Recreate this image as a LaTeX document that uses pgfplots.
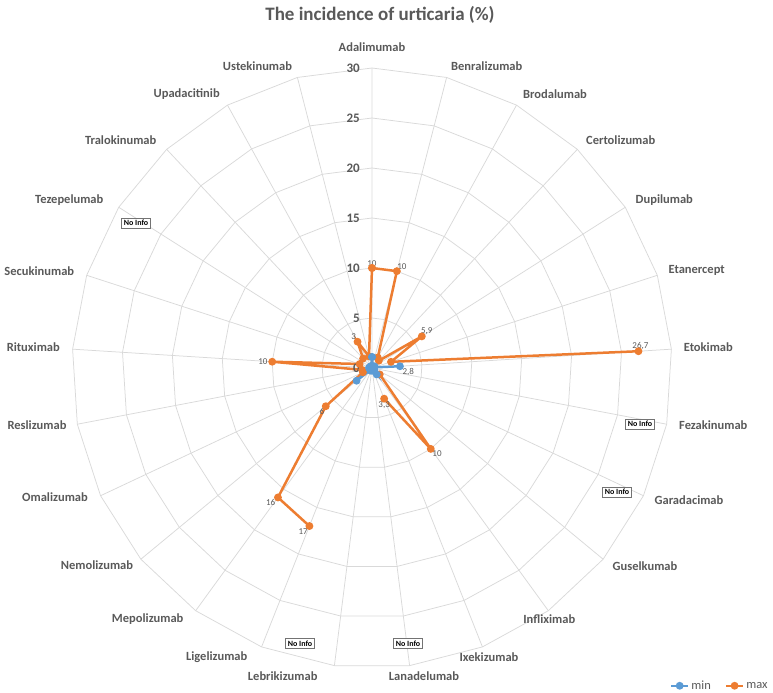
\documentclass[border=0pt]{standalone}
\usepackage{fontspec}
\setmainfont{Carlito}
\usepackage{pgfplots}
\pgfplotsset{compat=1.18}
\usepgfplotslibrary{polar}
\usepackage{pgfplotstable}
\definecolor{cmin}{HTML}{5B9BD5}
\definecolor{cmax}{HTML}{ED7D31}
\definecolor{gridc}{HTML}{D9D9D9}
\definecolor{txt}{HTML}{595959}
\definecolor{dlc}{HTML}{595959}

% angle = polar angle of the category (Adalimumab at top, clockwise, 25 categories)
\pgfplotstableread{
angle  min   max
90     1.1   10
75.6   0.2   10
61.2   0.1   1.2
46.8   0.1   1.0
32.4   0.3   5.9
18     0.2   2.0
3.6    2.8   26.7
349.2  nan   nan
334.8  nan   nan
320.4  0.3   1.0
306    0.8   10
291.6  0.3   3.3
277.2  nan   nan
262.8  nan   nan
248.4  0.3   17
234    0.2   16
219.6  2.0   6
205.2  0.2   1.0
190.8  0.2   1.0
176.4  0.3   10
162    0.2   1.3
147.6  nan   nan
133.2  0.2   1.3
118.8  0.2   3
104.4  0.2   1.2
90     1.1   10
}\datatable

\begin{document}
\begin{tikzpicture}
\tikzset{dl/.style={font=\fontsize{9bp}{10bp}\selectfont, text=dlc, inner sep=1.5bp},
  rl/.style={anchor=east, font=\fontsize{13bp}{14bp}\selectfont\bfseries, text=txt, inner sep=0pt, xshift=-12bp},
  cl/.style={font=\fontsize{12.5bp}{14bp}\selectfont\bfseries, text=txt, inner sep=0pt},
  ni/.style={draw=black!55, line width=0.6bp, font=\fontsize{8bp}{9bp}\selectfont\bfseries, text=black, inner sep=2bp, fill=white}}
\begin{polaraxis}[
  scale only axis, width=600bp, height=600bp,
  ymin=0, ymax=30,
  xtick={3.6,18,32.4,46.8,61.2,75.6,90,104.4,118.8,133.2,147.6,162,176.4,190.8,205.2,219.6,234,248.4,262.8,277.2,291.6,306,320.4,334.8,349.2},
  xticklabels={},
  xmajorgrids,
  major grid style={draw=gridc, line width=0.75bp},
  ytick=\empty,
  axis line style={draw=none},
  major tick length=0pt,
  unbounded coords=jump,
  clip=false,
  legend columns=2,
  legend style={at={(axis description cs:1.168,-0.045)}, anchor=south east, draw=none, fill=none,
    font=\fontsize{12.5bp}{14bp}\selectfont, text=txt,
    /tikz/every even column/.append style={column sep=12bp}},
  legend cell align=left,
]
\pgfplotsinvokeforeach{5,10,15,20,25,30}{
  \addplot[draw=gridc, line width=0.75bp, mark=none, forget plot] coordinates {
  (3.6,#1) (18,#1) (32.4,#1) (46.8,#1) (61.2,#1) (75.6,#1) (90,#1) (104.4,#1) (118.8,#1) (133.2,#1) (147.6,#1) (162,#1) (176.4,#1) (190.8,#1) (205.2,#1) (219.6,#1) (234,#1) (248.4,#1) (262.8,#1) (277.2,#1) (291.6,#1) (306,#1) (320.4,#1) (334.8,#1) (349.2,#1) (3.6,#1)};
}
\addlegendimage{draw=cmin, line width=2.5bp, mark=*, mark size=2.6bp, mark options={fill=cmin, draw=cmin}}
\addlegendentry{min}
\addlegendimage{draw=cmax, line width=2.5bp, mark=*, mark size=2.6bp, mark options={fill=cmax, draw=cmax}}
\addlegendentry{max}

\addplot[draw=cmax, line width=2.5bp, mark=*, mark size=2.6bp, mark options={fill=cmax, draw=cmax}, forget plot]
  table[x=angle, y=max] {\datatable};
\addplot[draw=cmin, line width=2.5bp, mark=*, mark size=2.6bp, mark options={fill=cmin, draw=cmin}, forget plot]
  table[x=angle, y=min] {\datatable};

\coordinate (C) at (axis cs:0,0);
% radial axis labels
\node[rl] at (axis cs:90,0) {0};
\node[rl] at (axis cs:90,5) {5};
\node[rl] at (axis cs:90,10) {10};
\node[rl] at (axis cs:90,15) {15};
\node[rl] at (axis cs:90,20) {20};
\node[rl] at (axis cs:90,25) {25};
\node[rl] at (axis cs:90,30) {30};
% data labels
\node[dl, anchor=south] at (axis cs:90,10) {10};
\node[dl, anchor=south, xshift=5bp] at (axis cs:75.6,10) {10};
\node[dl, anchor=south, xshift=5bp] at (axis cs:32.4,5.9) {5,9};
\node[dl, anchor=south, xshift=2bp] at (axis cs:3.6,26.7) {26,7};
\node[dl, anchor=north west, xshift=1bp] at (axis cs:3.6,2.8) {2,8};
\node[dl, anchor=north, yshift=-1bp] at (axis cs:291.6,3.3) {3,3};
\node[dl, anchor=north west] at (axis cs:306,10) {10};
\node[dl, anchor=east, xshift=-3bp] at (axis cs:176.4,10) {10};
\node[dl, anchor=north east] at (axis cs:219.6,6) {6};
\node[dl, anchor=north east, xshift=-1bp] at (axis cs:234,16) {16};
\node[dl, anchor=north east, yshift=-1bp] at (axis cs:248.4,17) {17};
\node[dl, anchor=south east] at (axis cs:118.8,3) {3};
\end{polaraxis}
% category labels
\node[cl] at ([shift={(0bp,321bp)}]C) {Adalimumab};
\node[cl] at ([shift={(114.7bp,302.3bp)}]C) {Benralizumab};
\node[cl] at ([shift={(183bp,273.7bp)}]C) {Brodalumab};
\node[cl] at ([shift={(248.7bp,228bp)}]C) {Certolizumab};
\node[cl] at ([shift={(292.3bp,168bp)}]C) {Dupilumab};
\node[cl] at ([shift={(324.7bp,97.3bp)}]C) {Etanercept};
\node[cl] at ([shift={(336.3bp,20.7bp)}]C) {Etokimab};
\node[cl] at ([shift={(341.3bp,-57bp)}]C) {Fezakinumab};
\node[cl] at ([shift={(317bp,-132bp)}]C) {Garadacimab};
\node[cl] at ([shift={(273bp,-197.7bp)}]C) {Guselkumab};
\node[cl] at ([shift={(177.3bp,-251bp)}]C) {Infliximab};
\node[cl] at ([shift={(117bp,-288.7bp)}]C) {Ixekizumab};
\node[cl] at ([shift={(52bp,-308bp)}]C) {Lanadelumab};
\node[cl] at ([shift={(-89.3bp,-308bp)}]C) {Lebrikizumab};
\node[cl] at ([shift={(-155.3bp,-288.7bp)}]C) {Ligelizumab};
\node[cl] at ([shift={(-224.3bp,-251bp)}]C) {Mepolizumab};
\node[cl] at ([shift={(-275bp,-197bp)}]C) {Nemolizumab};
\node[cl] at ([shift={(-317bp,-129bp)}]C) {Omalizumab};
\node[cl] at ([shift={(-335bp,-57bp)}]C) {Reslizumab};
\node[cl] at ([shift={(-338.7bp,20.7bp)}]C) {Rituximab};
\node[cl] at ([shift={(-332.7bp,97.3bp)}]C) {Secukinumab};
\node[cl] at ([shift={(-302.7bp,168bp)}]C) {Tezepelumab};
\node[cl] at ([shift={(-251.3bp,228bp)}]C) {Tralokinumab};
\node[cl] at ([shift={(-185.3bp,274bp)}]C) {Upadacitinib};
\node[cl] at ([shift={(-114.5bp,302.3bp)}]C) {Ustekinumab};
% No Info boxes
\node[ni] at ([shift={(-236bp,145bp)}]C) {No Info};
\node[ni] at ([shift={(268bp,-56bp)}]C) {No Info};
\node[ni] at ([shift={(245bp,-124bp)}]C) {No Info};
\node[ni] at ([shift={(-72bp,-275.5bp)}]C) {No Info};
\node[ni] at ([shift={(36bp,-275.5bp)}]C) {No Info};
\node[font=\fontsize{19bp}{21bp}\selectfont\bfseries, text=txt] at ([shift={(8bp,353bp)}]C) {The incidence of urticaria (\%)};
\pgfresetboundingbox
\useasboundingbox ([shift={(-372bp,-325bp)}]C) rectangle ([shift={(401bp,368bp)}]C);
\end{tikzpicture}
\end{document}
